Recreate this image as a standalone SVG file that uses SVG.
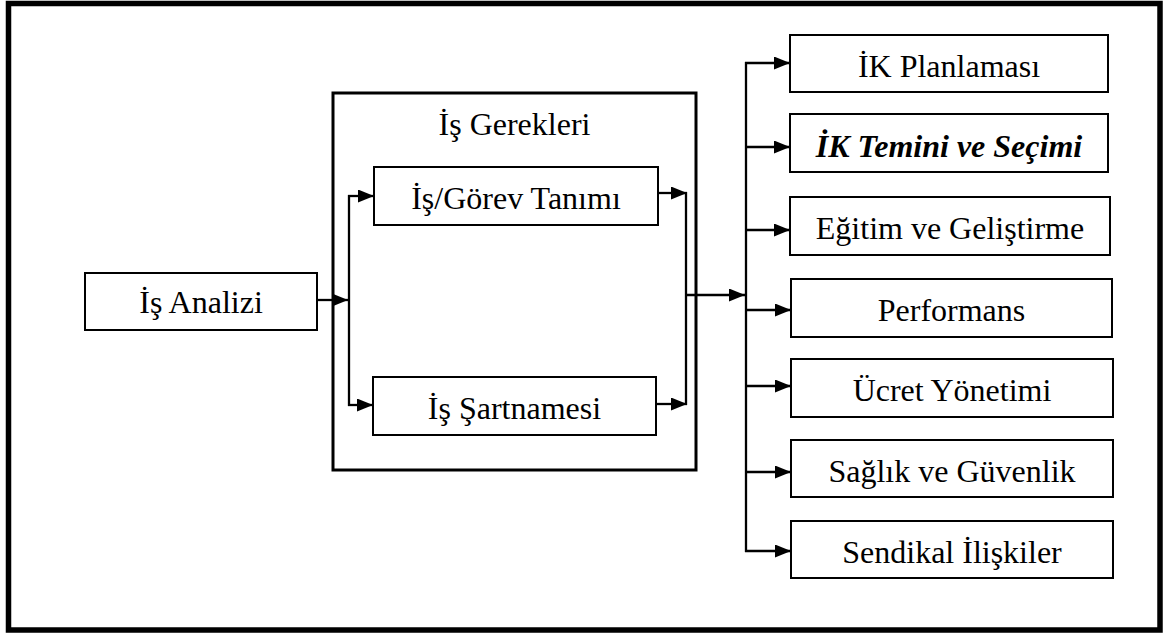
<svg xmlns="http://www.w3.org/2000/svg" width="1165" height="637" viewBox="0 0 1165 637">
  <style>
    .frame { fill: none; stroke: #000; stroke-width: 5.5; }
    .group { fill: none; stroke: #000; stroke-width: 3; }
    .box { fill: #fff; stroke: #000; stroke-width: 2; }
    .wire { fill: none; stroke: #000; stroke-width: 2.3; }
    .label { font-family: "Palatino Linotype", "Book Antiqua", "Liberation Serif", serif; font-size: 32px; fill: #000; text-anchor: middle; }
    .em { font-weight: bold; font-style: italic; }
  </style>
  <defs>
    <marker id="head" markerUnits="userSpaceOnUse" markerWidth="16" markerHeight="13" refX="16" refY="6.5" orient="auto">
      <path d="M0,0 L16,6.5 L0,13 Z" fill="#000"/>
    </marker>
  </defs>

  <rect width="1165" height="637" fill="#fff"/>
  <rect class="frame" x="8.5" y="3.5" width="1151.5" height="626.5"/>

  <!-- container for the job requirements -->
  <g id="is-gerekleri">
    <rect class="group" x="333" y="93" width="363" height="377"/>
    <text class="label" x="514.5" y="135">İş Gerekleri</text>
  </g>

  <g id="is-analizi">
    <rect class="box" x="85" y="273" width="232" height="57"/>
    <text class="label" x="201" y="313">İş Analizi</text>
  </g>

  <g id="gorev-tanimi">
    <rect class="box" x="374" y="167" width="284" height="58"/>
    <text class="label" x="516" y="209">İş/Görev Tanımı</text>
  </g>

  <g id="is-sartnamesi">
    <rect class="box" x="373" y="377" width="283" height="58"/>
    <text class="label" x="514.5" y="419">İş Şartnamesi</text>
  </g>

  <!-- HR functions fed by the job analysis -->
  <g id="ik-planlamasi">
    <rect class="box" x="790" y="35" width="318" height="57"/>
    <text class="label" x="949" y="77">İK Planlaması</text>
  </g>
  <g id="ik-temini">
    <rect class="box" x="790" y="114" width="318" height="58"/>
    <text class="label em" x="949" y="157">İK Temini ve Seçimi</text>
  </g>
  <g id="egitim">
    <rect class="box" x="790" y="197" width="320" height="58"/>
    <text class="label" x="950" y="239">Eğitim ve Geliştirme</text>
  </g>
  <g id="performans">
    <rect class="box" x="791" y="279" width="321" height="58"/>
    <text class="label" x="951.5" y="321">Performans</text>
  </g>
  <g id="ucret">
    <rect class="box" x="791" y="359" width="322" height="58"/>
    <text class="label" x="952" y="401">Ücret Yönetimi</text>
  </g>
  <g id="saglik">
    <rect class="box" x="791" y="440" width="322" height="57"/>
    <text class="label" x="952" y="482">Sağlık ve Güvenlik</text>
  </g>
  <g id="sendikal">
    <rect class="box" x="791" y="521" width="322" height="57"/>
    <text class="label" x="952" y="563">Sendikal İlişkiler</text>
  </g>

  <g id="connectors">
    <!-- analysis into the split -->
    <line class="wire" x1="317" y1="300" x2="348" y2="300" marker-end="url(#head)"/>
    <line class="wire" x1="349" y1="195" x2="349" y2="406"/>
    <line class="wire" x1="348" y1="196" x2="374" y2="196" marker-end="url(#head)"/>
    <line class="wire" x1="348" y1="405" x2="373" y2="405" marker-end="url(#head)"/>

    <!-- both outputs merge -->
    <line class="wire" x1="658" y1="193" x2="687" y2="193" marker-end="url(#head)"/>
    <line class="wire" x1="656" y1="404" x2="687" y2="404" marker-end="url(#head)"/>
    <line class="wire" x1="686" y1="192" x2="686" y2="405"/>
    <line class="wire" x1="686" y1="295" x2="745" y2="295" marker-end="url(#head)"/>

    <!-- distribution bus -->
    <line class="wire" x1="746" y1="62" x2="746" y2="552"/>
    <line class="wire" x1="745" y1="63" x2="790" y2="63" marker-end="url(#head)"/>
    <line class="wire" x1="745" y1="147" x2="790" y2="147" marker-end="url(#head)"/>
    <line class="wire" x1="745" y1="230" x2="790" y2="230" marker-end="url(#head)"/>
    <line class="wire" x1="745" y1="310" x2="791" y2="310" marker-end="url(#head)"/>
    <line class="wire" x1="745" y1="386" x2="791" y2="386" marker-end="url(#head)"/>
    <line class="wire" x1="745" y1="472" x2="791" y2="472" marker-end="url(#head)"/>
    <line class="wire" x1="745" y1="551" x2="791" y2="551" marker-end="url(#head)"/>
  </g>
</svg>
